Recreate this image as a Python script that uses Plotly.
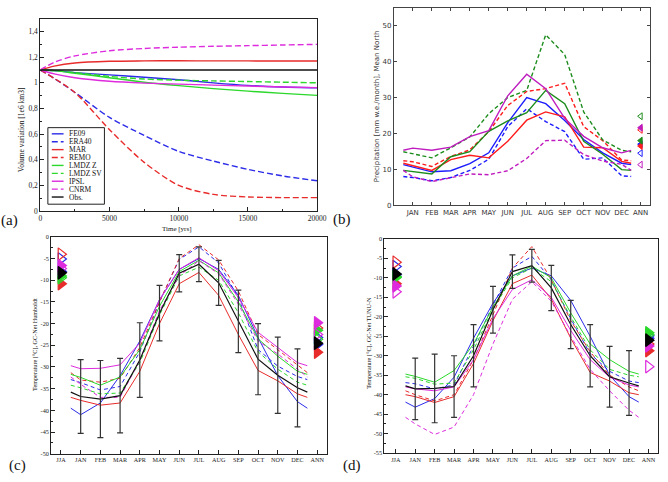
import plotly.graph_objects as go

W, H = 668, 482

def px(x):
    return x / W

def py(y):
    return 1 - y / H

SERIF = "Liberation Serif"
SANS = "DejaVu Sans"

# ---------------- data ----------------
MONTHS = ["JAN", "FEB", "MAR", "APR", "MAY", "JUN", "JUL", "AUG", "SEP", "OCT", "NOV", "DEC"]
TICKS_B = MONTHS + ["ANN"]
TICKS_CD = ["JJA"] + MONTHS + ["ANN"]
MODELS = ["FE09", "ERA40", "MAR", "REMO", "LMDZ Z", "LMDZ SV", "IPSL", "CNRM"]
LEGEND_NAMES = MODELS + ["Obs."]

# (a) volume variation
years = [0, 1000, 2500, 5000, 7500, 10000, 12500, 15000, 17500, 20000]
vol = {
    "FE09":    [1.10, 1.095, 1.080, 1.062, 1.044, 1.024, 1.000, 0.980, 0.968, 0.962],
    "ERA40":   [1.10, 1.035, 0.925, 0.730, 0.590, 0.465, 0.390, 0.325, 0.274, 0.236],
    "MAR":     [1.10, 1.130, 1.155, 1.168, 1.171, 1.172, 1.171, 1.171, 1.170, 1.170],
    "REMO":    [1.10, 1.035, 0.925, 0.635, 0.380, 0.200, 0.130, 0.110, 0.105, 0.105],
    "LMDZ Z":  [1.10, 1.095, 1.075, 1.040, 1.005, 0.978, 0.955, 0.935, 0.918, 0.902],
    "LMDZ SV": [1.10, 1.095, 1.080, 1.050, 1.030, 1.020, 1.015, 1.010, 1.005, 1.000],
    "IPSL":    [1.10, 1.070, 1.040, 1.012, 0.998, 0.990, 0.982, 0.975, 0.968, 0.963],
    "CNRM":    [1.10, 1.160, 1.210, 1.250, 1.268, 1.278, 1.285, 1.290, 1.295, 1.300],
}
vol_obs = [1.10] * len(years)
a_yticks = [0, 0.2, 0.4, 0.6, 0.8, 1.0, 1.2, 1.4]
a_yticktext = ["0", "0,2", "0,4", "0,6", "0,8", "1", "1,2", "1,4"]
a_xticks = [0, 5000, 10000, 15000, 20000]

# (b) precipitation, monthly; edge = value at DEC/JAN junction
precip = {
    "FE09":    [10.7, 9.3, 9.6, 11.6, 14.6, 23.0, 30.0, 28.3, 23.6, 18.3, 14.6, 11.7],
    "ERA40":   [7.7, 6.8, 7.7, 9.7, 12.8, 21.9, 26.9, 23.3, 20.5, 12.8, 13.2, 8.2],
    "MAR":     [11.1, 9.7, 12.7, 13.9, 13.2, 17.8, 23.7, 26.0, 24.6, 16.2, 16.0, 12.2],
    "REMO":    [12.1, 10.8, 13.6, 15.4, 20.5, 27.8, 31.7, 32.5, 34.0, 21.9, 18.0, 12.6],
    "LMDZ Z":  [9.3, 8.7, 13.5, 14.9, 20.6, 23.5, 25.8, 32.0, 28.3, 17.8, 14.2, 9.9],
    "LMDZ SV": [14.4, 13.2, 16.0, 19.0, 25.5, 30.0, 32.0, 47.5, 42.0, 26.0, 18.2, 15.3],
    "IPSL":    [15.9, 15.3, 16.2, 19.1, 20.8, 30.5, 36.5, 32.5, 24.2, 19.2, 16.0, 14.6],
    "CNRM":    [7.9, 6.6, 7.7, 8.7, 8.5, 9.6, 13.0, 18.0, 18.1, 14.1, 12.3, 11.4],
}
precip_edge = {"FE09": 11.3, "ERA40": 8.0, "MAR": 11.7, "REMO": 12.4, "LMDZ Z": 9.7,
               "LMDZ SV": 14.9, "IPSL": 15.3, "CNRM": 9.7}
precip_ann = {"FE09": 17.0, "ERA40": 14.5, "MAR": 16.5, "REMO": 21.0, "LMDZ Z": 18.0,
              "LMDZ SV": 24.8, "IPSL": 21.6, "CNRM": 11.3}

# (c) temperature GC-Net Humboldt
temp_c = {
    "FE09":    [-41.0, -38.3, -32.0, -24.0, -14.5, -7.5, -5.0, -7.5, -13.5, -23.2, -32.0, -38.0],
    "ERA40":   [-33.6, -35.3, -34.5, -26.5, -15.0, -5.2, -2.3, -6.0, -14.0, -26.0, -29.8, -32.2],
    "MAR":     [-37.7, -38.8, -38.3, -31.0, -20.0, -10.8, -8.2, -13.5, -22.5, -30.8, -33.2, -36.2],
    "REMO":    [-33.0, -33.5, -32.6, -25.5, -15.0, -5.0, -1.8, -5.3, -12.5, -22.5, -26.0, -29.5],
    "LMDZ Z":  [-32.4, -34.2, -32.3, -26.0, -16.0, -8.0, -5.4, -8.3, -15.0, -23.5, -27.5, -31.0],
    "LMDZ SV": [-34.8, -36.2, -36.0, -29.0, -18.0, -9.0, -7.0, -10.0, -17.5, -26.5, -30.5, -33.5],
    "IPSL":    [-30.4, -30.3, -29.5, -24.5, -14.5, -7.5, -4.8, -7.8, -14.0, -22.0, -25.5, -29.0],
    "CNRM":    [-34.0, -37.0, -37.0, -28.5, -17.0, -9.0, -5.5, -8.5, -15.5, -24.0, -27.0, -30.5],
}
temp_c_edge = {"FE09": -39.5, "ERA40": -32.9, "MAR": -37.0, "REMO": -31.3, "LMDZ Z": -31.7,
               "LMDZ SV": -34.2, "IPSL": -29.7, "CNRM": -32.3}
obs_c = [-36.8, -37.4, -36.6, -28.4, -17.6, -8.4, -6.3, -10.6, -19.5, -28.2, -31.9, -34.8]
obs_c_err = [8.5, 8.9, 8.6, 8.6, 6.4, 4.3, 4.0, 5.2, 7.2, 8.2, 8.8, 9.0]
obs_c_edge = -35.8
jja_c = {"FE09": -8.0, "ERA40": -5.1, "MAR": -10.8, "REMO": -4.0, "LMDZ Z": -9.0,
         "LMDZ SV": -9.4, "IPSL": -6.6, "CNRM": -7.3, "Obs.": -8.3}
ann_c = {"FE09": -24.8, "ERA40": -23.2, "MAR": -26.6, "REMO": -21.0, "LMDZ Z": -21.5,
         "LMDZ SV": -23.6, "IPSL": -19.8, "CNRM": -22.5, "Obs.": -24.5}

# (d) temperature GC-Net TUNU-N
temp_d = {
    "FE09":    [-43.2, -41.0, -35.5, -25.5, -16.5, -9.5, -7.5, -9.5, -15.8, -25.0, -35.0, -40.5],
    "ERA40":   [-37.2, -38.5, -37.5, -27.5, -17.0, -7.5, -4.5, -10.5, -20.5, -29.5, -34.0, -36.5],
    "MAR":     [-40.5, -42.0, -40.5, -32.0, -21.0, -11.5, -9.3, -15.5, -25.5, -34.3, -36.5, -39.5],
    "REMO":    [-40.0, -41.6, -40.0, -31.0, -19.5, -7.5, -2.0, -10.5, -21.0, -29.0, -35.0, -38.0],
    "LMDZ Z":  [-35.3, -36.8, -33.8, -27.0, -17.5, -9.5, -7.0, -10.0, -19.0, -27.0, -31.0, -34.0],
    "LMDZ SV": [-35.8, -37.3, -37.0, -28.5, -18.0, -10.0, -7.5, -11.0, -20.0, -28.5, -33.5, -35.0],
    "IPSL":    [-38.5, -39.0, -38.0, -31.0, -20.5, -13.0, -10.5, -15.0, -23.5, -31.0, -35.5, -37.5],
    "CNRM":    [-47.5, -50.2, -48.3, -40.0, -27.0, -15.5, -11.0, -16.0, -25.0, -33.5, -39.0, -44.0],
}
temp_d_edge = {"FE09": -41.9, "ERA40": -36.9, "MAR": -40.0, "REMO": -39.0, "LMDZ Z": -34.7,
               "LMDZ SV": -35.4, "IPSL": -38.0, "CNRM": -45.8}
obs_d = [-38.5, -38.4, -37.9, -30.0, -18.2, -8.4, -6.9, -12.6, -22.0, -30.0, -35.4, -37.0]
obs_d_err = [7.9, 8.8, 7.9, 8.0, 6.0, 4.3, 4.2, 5.8, 6.2, 8.0, 7.8, 8.3]
obs_d_edge = -37.75
jja_d = {"FE09": -9.2, "ERA40": -7.1, "MAR": -11.5, "REMO": -6.0, "LMDZ Z": -9.7,
         "LMDZ SV": -9.9, "IPSL": -12.1, "CNRM": -13.6, "Obs.": -9.0}
ann_d = {"FE09": -25.5, "ERA40": -24.9, "MAR": -28.7, "REMO": -27.0, "LMDZ Z": -24.1,
         "LMDZ SV": -24.6, "IPSL": -27.5, "CNRM": -32.8, "Obs.": -26.0}

# ---------------- styles ----------------
GRACE = {"blue": "#2b2be8", "red": "#e82b2b", "green": "#2bd82b", "magenta": "#dd2bdd", "black": "#000000"}
MPL = {"blue": "#1c1cff", "red": "#ff1c1c", "green": "#1c8c1c", "magenta": "#bf1cbf", "black": "#000000"}
STYLE = {
    "FE09": ("blue", False), "ERA40": ("blue", True),
    "MAR": ("red", False), "REMO": ("red", True),
    "LMDZ Z": ("green", False), "LMDZ SV": ("green", True),
    "IPSL": ("magenta", False), "CNRM": ("magenta", True),
    "Obs.": ("black", False),
}
DASH_A = "6px,3px"
DASH_B = "4px,2.5px"
DASH_CD = "4px,3px"

month_pos = list(range(1, 13))
line_pos = [0.5] + month_pos + [12.5]

fig = go.Figure()

# ---- (a)
for m in MODELS:
    c, d = STYLE[m]
    fig.add_trace(go.Scatter(x=years, y=vol[m], mode="lines", xaxis="x", yaxis="y",
                             line=dict(color=GRACE[c], width=1.4, dash=DASH_A if d else "solid",
                                       shape="spline", smoothing=0.8),
                             showlegend=False))
fig.add_trace(go.Scatter(x=years, y=vol_obs, mode="lines", xaxis="x", yaxis="y",
                         line=dict(color="#111", width=1.4), showlegend=False))

# ---- (b)
for m in MODELS:
    c, d = STYLE[m]
    fig.add_trace(go.Scatter(x=line_pos, y=[precip_edge[m]] + precip[m] + [precip_edge[m]],
                             mode="lines", xaxis="x2", yaxis="y2",
                             line=dict(color=MPL[c], width=1.4, dash=DASH_B if d else "solid"),
                             showlegend=False))
for m in MODELS:
    c, d = STYLE[m]
    fig.add_trace(go.Scatter(x=[13], y=[precip_ann[m]], mode="markers", xaxis="x2", yaxis="y2",
                             marker=dict(symbol="triangle-left-open" if d else "triangle-left",
                                         size=6, color=MPL[c], line=dict(color=MPL[c], width=1)),
                             showlegend=False))

# ---- (c) and (d)
def temp_panel(xa, ya, data, edge, obs, obs_err, obs_edge, jja, ann):
    for m in MODELS:
        c, d = STYLE[m]
        fig.add_trace(go.Scatter(x=line_pos, y=[edge[m]] + data[m] + [edge[m]],
                                 mode="lines", xaxis=xa, yaxis=ya,
                                 line=dict(color=GRACE[c], width=1.0, dash=DASH_CD if d else "solid"),
                                 showlegend=False))
    fig.add_trace(go.Scatter(x=line_pos, y=[obs_edge] + obs + [obs_edge], mode="lines",
                             xaxis=xa, yaxis=ya, line=dict(color="#111", width=1.2),
                             showlegend=False))
    fig.add_trace(go.Scatter(x=month_pos, y=obs, mode="markers", xaxis=xa, yaxis=ya,
                             marker=dict(size=1, color="rgba(0,0,0,0)"),
                             error_y=dict(type="data", array=obs_err, visible=True,
                                          color="#333", thickness=1.2, width=3),
                             showlegend=False))
    for pos, vals in ((0, jja), (13, ann)):
        for m in MODELS + ["Obs."]:
            c, d = STYLE[m]
            fig.add_trace(go.Scatter(x=[pos], y=[vals[m]], mode="markers", xaxis=xa, yaxis=ya,
                                     marker=dict(symbol="triangle-right-open" if d else "triangle-right",
                                                 size=11, color=GRACE[c],
                                                 line=dict(color=GRACE[c], width=1.2)),
                                     cliponaxis=False, showlegend=False))

temp_panel("x3", "y3", temp_c, temp_c_edge, obs_c, obs_c_err, obs_c_edge, jja_c, ann_c)
temp_panel("x4", "y4", temp_d, temp_d_edge, obs_d, obs_d_err, obs_d_edge, jja_d, ann_d)

# ---------------- axes ----------------
def grace_axis(**kw):
    base = dict(showline=True, linecolor="#222", linewidth=1, mirror=True, ticks="inside",
                ticklen=4, tickcolor="#222", tickwidth=1, showgrid=False, zeroline=False,
                tickfont=dict(family=SERIF, size=7, color="#222"))
    base.update(kw)
    return base

def mpl_axis(**kw):
    base = dict(showline=True, linecolor="#444", linewidth=1, mirror="ticks", ticks="inside",
                ticklen=3.5, tickcolor="#444", tickwidth=1, showgrid=False, zeroline=False,
                tickfont=dict(family=SANS, size=7, color="#333"))
    base.update(kw)
    return base

fig.update_layout(
    xaxis=grace_axis(domain=[px(39), px(321)], range=[0, 20000], anchor="y",
                     tickmode="array", tickvals=a_xticks, ticktext=[str(v) for v in a_xticks],
                     tickfont=dict(family=SERIF, size=7.5, color="#222"),
                     minor=dict(tickmode="linear", tick0=0, dtick=2500, ticks="inside",
                                ticklen=2, tickcolor="#222")),
    yaxis=grace_axis(domain=[py(211), py(15)], range=[0, 1.5], anchor="x",
                     tickmode="array", tickvals=a_yticks, ticktext=a_yticktext,
                     tickfont=dict(family=SERIF, size=7.5, color="#222"),
                     minor=dict(tickmode="linear", tick0=0, dtick=0.1, ticks="inside",
                                ticklen=2, tickcolor="#222")),
    xaxis2=mpl_axis(domain=[px(399), px(660)], range=[0, 13.5], anchor="y2",
                    tickmode="array", tickvals=list(range(1, 14)), ticktext=TICKS_B),
    yaxis2=mpl_axis(domain=[py(205), py(4)], range=[0, 55], anchor="x2",
                    tickmode="array", tickvals=[0, 10, 20, 30, 40, 50],
                    ticktext=["0", "10", "20", "30", "40", "50"]),
    xaxis3=grace_axis(domain=[px(50), px(331)], range=[-0.5, 13.5], anchor="y3", mirror=True,
                      tickmode="array", tickvals=list(range(14)), ticktext=TICKS_CD,
                      tickfont=dict(family=SERIF, size=6.2, color="#222")),
    yaxis3=grace_axis(domain=[py(458.3), py(237.3)], range=[-50, 0], anchor="x3",
                      tickmode="array", tickvals=list(range(-50, 1, 5)),
                      ticktext=[str(v) for v in range(-50, 1, 5)],
                      tickfont=dict(family=SERIF, size=6.2, color="#222"),
                      minor=dict(tickmode="linear", tick0=0, dtick=2.5, ticks="inside",
                                 ticklen=2, tickcolor="#222")),
    xaxis4=grace_axis(domain=[px(389.3), 1.0], range=[-0.59, 13.49], anchor="y4",
                      tickmode="array", tickvals=list(range(14)), ticktext=TICKS_CD,
                      tickfont=dict(family=SERIF, size=6.2, color="#222")),
    yaxis4=grace_axis(domain=[py(457.7), py(239.3)], range=[-55, 0], anchor="x4",
                      tickmode="array", tickvals=list(range(-55, 1, 5)),
                      ticktext=[str(v) for v in range(-55, 1, 5)],
                      tickfont=dict(family=SERIF, size=6.2, color="#222"),
                      minor=dict(tickmode="linear", tick0=0, dtick=2.5, ticks="inside",
                                 ticklen=2, tickcolor="#222")),
)

# ---------------- text ----------------
ann = []
def text(x, y, s, size, family=SERIF, angle=0, xanchor="center", color="#111"):
    ann.append(dict(x=px(x), y=py(y), xref="paper", yref="paper", text=s, showarrow=False,
                    textangle=angle, xanchor=xanchor, yanchor="middle",
                    font=dict(family=family, size=size, color=color)))

text(20, 128, "Volume variation [1e6 km3]", 7.5, angle=-90)
text(178, 229.5, "Time [yrs]", 7)
text(382, 104, "Precipitation [mm w.e./month], Mean North", 7, family=SANS, angle=-90, color="#333")
text(33, 347, "Temperature [°C], GC-Net Humboldt", 6.2, angle=-90)
text(373, 345, "Temperature [°C], GC-Net TUNU-N", 6.2, angle=-90)
text(8, 221, "(a)", 15)
text(346, 220, "(b)", 15)
text(16, 470, "(c)", 15)
text(356, 470, "(d)", 15)

# legend of panel (a)
shapes = [dict(type="rect", xref="paper", yref="paper", x0=px(46.7), x1=px(104.3),
               y0=py(204), y1=py(126), line=dict(color="#222", width=1),
               fillcolor="white", layer="above")]
for i, name in enumerate(LEGEND_NAMES):
    c, d = STYLE[name]
    yy = 132.3 + 8.05 * i
    shapes.append(dict(type="line", xref="paper", yref="paper", x0=px(50.7), x1=px(62.7),
                       y0=py(yy), y1=py(yy), layer="above",
                       line=dict(color=GRACE[c] if name != "Obs." else "#111", width=1.4,
                                 dash=DASH_A if d else "solid")))
    text(66, yy, name, 7.5, xanchor="left")

fig.update_layout(width=W, height=H, margin=dict(l=0, r=0, t=0, b=0),
                  paper_bgcolor="white", plot_bgcolor="white",
                  annotations=ann, shapes=shapes, showlegend=False)

fig.write_html("out.html")
